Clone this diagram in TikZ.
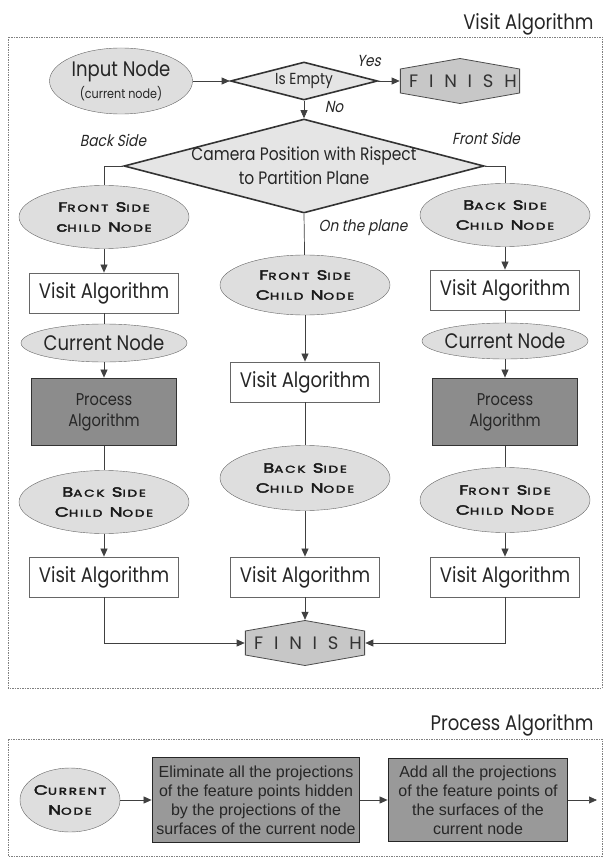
\documentclass[tikz,border=0pt]{standalone}
\usepackage{fontspec}
\setmainfont{Poppins}[FakeStretch=0.86]
\newfontfamily\kslant{Poppins}[FakeStretch=0.86, FakeSlant=0.2]
\newfontfamily\kcaps{Poppins}[FakeStretch=1.35, LetterSpace=18, FakeBold=3]
\newfontfamily\kbody{Liberation Sans}
\newfontfamily\kfin{Poppins}[LetterSpace=60]
\usetikzlibrary{arrows.meta, shapes.geometric}
\newcommand{\kcw}[2]{{\fontsize{13.5}{20}\selectfont#1}{\fontsize{10}{20}\selectfont#2}}
\tikzset{
  ellip/.style={ellipse, draw=black!60, fill=black!13, inner xsep=-20pt, inner ysep=0pt, align=center, text=black!85},
  childn/.style={ellip, minimum width=170pt, minimum height=63pt, text=black!90, font=\kcaps\fontsize{13.5}{20}\selectfont},
  curn/.style={ellip, minimum width=166pt, minimum height=38pt, font=\fontsize{21}{24}\selectfont},
  visit/.style={rectangle, draw=black!60, line width=0.8pt, fill=white, minimum width=149pt, minimum height=40pt, font=\fontsize{21}{24}\selectfont, text=black!85},
  proc/.style={rectangle, draw=black!80, line width=1.8pt, fill=black!45, minimum width=145pt, minimum height=67pt, align=center, font=\fontsize{17}{21}\selectfont, text=black!85},
  decide/.style={diamond, draw=black!80, line width=1.6pt, fill=black!10, inner sep=0pt, text=black!85},
  camtext/.style={align=center, font=\fontsize{18}{24}\selectfont, text=black!85},
  finish/.style={rectangle, fill=white, minimum width=116pt, minimum height=46pt, font=\kfin\fontsize{18}{20}\selectfont, text=black!80,
    path picture={
      \draw[fill=black!22, draw=black!70, line width=0.8pt]
        ([shift={(0.5pt,-11pt)}]path picture bounding box.north west) -- ([yshift=-0.5pt]path picture bounding box.north)
        -- ([shift={(-0.5pt,-11pt)}]path picture bounding box.north east) -- ([shift={(-0.5pt,11pt)}]path picture bounding box.south east)
        -- ([yshift=0.5pt]path picture bounding box.south) -- ([shift={(0.5pt,11pt)}]path picture bounding box.south west) -- cycle;
    }},
  ppbox/.style={rectangle, draw=black!85, line width=1.8pt, fill=black!40, align=center, font=\kbody\fontsize{16}{19}\selectfont, text=black!85},
  flow/.style={-{Triangle[length=8pt, width=7pt]}, black!75, line width=0.7pt},
  link/.style={black!75, line width=0.7pt},
  lab/.style={font=\kslant\fontsize{16}{18}\selectfont, text=black!85},
  frame/.style={draw=black!50, dash pattern=on 1.5pt off 1pt, line width=0.7pt},
  title/.style={font=\fontsize{21}{24}\selectfont, text=black!85},
}
\begin{document}
\begin{tikzpicture}[x=1pt, y=1pt]
  \useasboundingbox (0,0) rectangle (605,-858);
  % visit algorithm
  \node[title, anchor=base east] (vtitle) at (597,-30) {Visit Algorithm};
  \draw[frame] (8,-37) rectangle (602,-688);
  \node[ellip, minimum width=143pt, minimum height=66pt, font=\fontsize{21}{22}\selectfont] (input) at (121,-81) {Input Node\\{\fontsize{13}{15}\selectfont(current node)}};
  \node[decide, aspect=4, minimum width=147pt, minimum height=38pt, font=\fontsize{16}{20}\selectfont] (empty) at (304,-81) {Is Empty};
  \node[finish] (fin1) at (460,-81) {\kern6pt FINISH};
  \node[decide, minimum width=360pt, minimum height=94pt, label={[camtext]center:Camera Position with Rispect\\to Partition Plane}] (camera) at (304,-166) {};
  \node[lab] (yes) at (369,-61) {Yes};
  \node[lab] (no) at (334,-107) {No};
  \node[lab] (back) at (113,-140) {Back Side};
  \node[lab] (front) at (486,-138) {Front Side};
  \node[lab] (plane) at (363,-228) {On the plane};
  % back side column
  \node[childn] (lf1) at (104,-217) {\kcw{F}{RONT} \kcw{S}{IDE}\\\kcw{c}{HILD} \kcw{N}{ODE}};
  \node[visit] (lv1) at (104,-293) {Visit Algorithm};
  \node[curn] (lc) at (104,-343) {Current Node};
  \node[proc] (lp) at (104,-412) {Process\\Algorithm};
  \node[childn] (lb) at (104,-502) {\kcw{B}{ACK} \kcw{S}{IDE}\\\kcw{C}{HILD} \kcw{N}{ODE}};
  \node[visit] (lv2) at (104,-577) {Visit Algorithm};
  % on the plane column
  \node[childn, minimum height=60pt] (cf) at (305,-285) {\kcw{F}{RONT} \kcw{S}{IDE}\\\kcw{C}{HILD} \kcw{N}{ODE}};
  \node[visit] (cv1) at (305,-382) {Visit Algorithm};
  \node[childn, minimum height=65pt] (cb) at (305,-478) {\kcw{B}{ACK} \kcw{S}{IDE}\\\kcw{C}{HILD} \kcw{N}{ODE}};
  \node[visit] (cv2) at (305,-577) {Visit Algorithm};
  \node[finish] (fin2) at (305,-643) {\kern6pt FINISH};
  % front side column
  \node[childn] (rb) at (505,-215) {\kcw{B}{ACK} \kcw{S}{IDE}\\\kcw{C}{HILD} \kcw{N}{ODE}};
  \node[visit] (rv1) at (505,-290) {Visit Algorithm};
  \node[curn, minimum height=36pt] (rc) at (505,-341) {Current Node};
  \node[proc] (rp) at (505,-412) {Process\\Algorithm};
  \node[childn, minimum height=65pt] (rf) at (505,-500) {\kcw{F}{RONT} \kcw{S}{IDE}\\\kcw{C}{HILD} \kcw{N}{ODE}};
  \node[visit] (rv2) at (505,-577) {Visit Algorithm};
  \draw[flow] (input) -- (empty);
  \draw[flow] (empty) -- (fin1);
  \draw[flow] (empty) -- (camera);
  \draw[link] (camera.west) -| (lf1);
  \draw[link] (camera.east) -| (rb);
  \draw[link] (camera.south) -- (cf);
  \draw[flow] (lf1) -- (lv1);
  \draw[link] (lv1) -- (lc);
  \draw[flow] (lc) -- (lp);
  \draw[link] (lp) -- (lb);
  \draw[flow] (lb) -- (lv2);
  \draw[flow] (lv2) |- (fin2);
  \draw[flow] (cf) -- (cv1);
  \draw[link] (cv1) -- (cb);
  \draw[flow] (cb) -- (cv2);
  \draw[flow] (cv2) -- (fin2);
  \draw[flow] (rb) -- (rv1);
  \draw[link] (rv1) -- (rc);
  \draw[flow] (rc) -- (rp);
  \draw[link] (rp) -- (rf);
  \draw[flow] (rf) -- (rv2);
  \draw[flow] (rv2) |- (fin2);
  % process algorithm
  \node[title, anchor=base east] (ptitle) at (597,-730) {Process Algorithm};
  \draw[frame] (8,-739) rectangle (602,-856);
  \node[ellip, minimum width=100pt, minimum height=64pt, text=black!90, font=\kcaps\fontsize{13.5}{20}\selectfont] (cur) at (70,-800) {\kcw{C}{URRENT}\\\kcw{N}{ODE}};
  \node[ppbox, minimum width=207pt, minimum height=85pt] (elim) at (256,-800) {Eliminate all the projections\\of the feature points hidden\\by the projections of the\\surfaces of the current node};
  \node[ppbox, minimum width=179pt, minimum height=83pt] (addp) at (478,-800) {Add all the projections\\of the feature points of\\the surfaces of the\\current node};
  \coordinate (pend) at (597,-800);
  \draw[flow] (cur) -- (elim);
  \draw[flow] (elim) -- (addp);
  \draw[flow] (addp) -- (pend);
\end{tikzpicture}
\end{document}
